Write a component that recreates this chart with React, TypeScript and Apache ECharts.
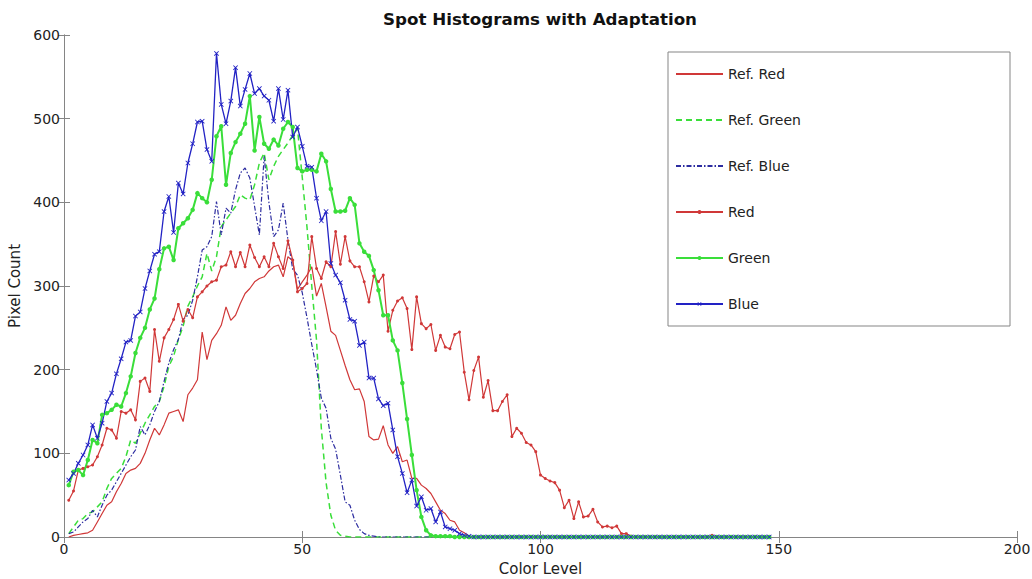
import React, { useEffect, useRef } from "react";
import * as echarts from "echarts";

// Color levels run 1..148 (one value per level)
const refRed = [
  0, 2, 3, 4, 5, 8, 18, 28, 38, 42,
  54, 64, 76, 80, 82, 88, 100, 116, 130, 122,
  134, 148, 150, 152, 138, 170, 178, 188, 245, 212,
  235, 243, 253, 275, 259, 265, 279, 291, 297, 305,
  309, 311, 318, 323, 325, 311, 335, 330, 296, 305,
  313, 323, 288, 303, 275, 246, 241, 223, 205, 188,
  176, 177, 162, 120, 116, 117, 133, 110, 100, 108,
  90, 92, 70, 70, 62, 58, 52, 42, 32, 28,
  20, 18, 8, 5, 1, 0, 0, 0, 0, 0,
  0, 0, 0, 0, 0, 0, 0, 0, 0, 0,
  0, 0, 0, 0, 0, 0, 0, 0, 0, 0,
  0, 0, 0, 0, 0, 0, 0, 0, 0, 0,
  0, 0, 0, 0, 0, 0, 0, 0, 0, 0,
  0, 0, 0, 0, 0, 0, 0, 0, 0, 0,
  0, 0, 0, 0, 0, 0, 0, 0,
];

const refGreen = [
  4, 12, 20, 22, 28, 30, 36, 42, 58, 70,
  76, 82, 96, 116, 112, 124, 136, 146, 156, 162,
  180, 204, 216, 236, 252, 276, 287, 300, 311, 339,
  318, 335, 371, 379, 387, 395, 409, 405, 403, 421,
  447, 459, 427, 443, 455, 463, 471, 480, 488, 430,
  370, 300, 235, 130, 65, 26, 8, 2, 1, 0,
  0, 0, 0, 0, 0, 0, 0, 0, 0, 0,
  0, 0, 0, 0, 0, 0, 0, 0, 0, 0,
  0, 0, 0, 0, 0, 0, 0, 0, 0, 0,
  0, 0, 0, 0, 0, 0, 0, 0, 0, 0,
  0, 0, 0, 0, 0, 0, 0, 0, 0, 0,
  0, 0, 0, 0, 0, 0, 0, 0, 0, 0,
  0, 0, 0, 0, 0, 0, 0, 0, 0, 0,
  0, 0, 0, 0, 0, 0, 0, 0, 0, 0,
  0, 0, 0, 0, 0, 0, 0, 0,
];

const refBlue = [
  4, 6, 12, 18, 22, 32, 24, 38, 50, 56,
  66, 76, 86, 96, 104, 132, 122, 134, 150, 162,
  186, 208, 224, 236, 260, 265, 283, 311, 343, 347,
  359, 401, 361, 393, 387, 415, 435, 441, 429, 395,
  361, 455, 400, 359, 367, 399, 355, 320, 313, 292,
  262, 230, 200, 166, 154, 118, 105, 74, 42, 38,
  20, 9, 4, 2, 1, 0, 0, 0, 0, 0,
  0, 0, 0, 0, 0, 0, 0, 0, 0, 0,
  0, 0, 0, 0, 0, 0, 0, 0, 0, 0,
  0, 0, 0, 0, 0, 0, 0, 0, 0, 0,
  0, 0, 0, 0, 0, 0, 0, 0, 0, 0,
  0, 0, 0, 0, 0, 0, 0, 0, 0, 0,
  0, 0, 0, 0, 0, 0, 0, 0, 0, 0,
  0, 0, 0, 0, 0, 0, 0, 0, 0, 0,
  0, 0, 0, 0, 0, 0, 0, 0,
];

const red = [
  44, 55, 80, 82, 84, 86, 96, 110, 130, 128,
  118, 150, 148, 152, 140, 186, 190, 174, 248, 210,
  238, 248, 260, 278, 258, 272, 262, 287, 293, 300,
  305, 307, 323, 325, 341, 323, 340, 323, 349, 334,
  323, 335, 323, 351, 335, 321, 354, 331, 293, 297,
  303, 359, 321, 309, 329, 323, 365, 326, 359, 330,
  323, 323, 305, 281, 312, 305, 313, 246, 271, 282,
  286, 273, 224, 287, 255, 249, 254, 223, 241, 227,
  225, 242, 245, 197, 164, 199, 215, 167, 187, 151,
  151, 162, 170, 120, 130, 124, 113, 110, 102, 74,
  70, 67, 65, 56, 35, 44, 22, 42, 24, 25,
  33, 18, 12, 13, 11, 13, 4, 4, 1, 0,
  0, 0, 0, 0, 0, 0, 0, 0, 0, 0,
  0, 0, 0, 0, 0, 2, 0, 0, 0, 0,
  0, 0, 0, 0, 0, 0, 0, 0,
];

const green = [
  62, 78, 80, 74, 92, 116, 112, 146, 148, 152,
  158, 156, 172, 192, 220, 238, 250, 272, 285, 320,
  345, 347, 331, 369, 375, 381, 391, 411, 405, 400,
  427, 479, 491, 421, 459, 472, 482, 494, 527, 462,
  502, 470, 464, 475, 468, 488, 496, 490, 441, 437,
  439, 439, 437, 458, 449, 416, 389, 389, 390, 405,
  397, 351, 341, 336, 319, 295, 265, 265, 235, 223,
  184, 141, 98, 56, 24, 8, 2, 1, 1, 1,
  1, 0, 0, 0, 0, 0, 0, 0, 0, 0,
  0, 0, 0, 0, 0, 0, 0, 0, 0, 0,
  0, 0, 0, 0, 0, 0, 0, 0, 0, 0,
  0, 0, 0, 0, 0, 0, 0, 0, 0, 0,
  0, 0, 0, 0, 0, 0, 0, 0, 0, 0,
  0, 0, 0, 0, 0, 0, 0, 0, 0, 0,
  0, 0, 0, 0, 0, 0, 0, 0,
];

const blue = [
  68, 76, 88, 98, 110, 134, 118, 136, 162, 172,
  195, 213, 233, 235, 264, 269, 297, 318, 338, 341,
  389, 407, 364, 423, 410, 447, 470, 496, 497, 463,
  449, 578, 517, 494, 521, 561, 515, 535, 554, 530,
  536, 527, 522, 497, 536, 499, 534, 478, 490, 467,
  443, 442, 405, 378, 389, 327, 313, 304, 283, 260,
  258, 229, 233, 190, 190, 165, 157, 160, 128, 96,
  76, 53, 68, 37, 48, 32, 34, 18, 30, 12,
  10, 8, 4, 2, 1, 0, 0, 0, 0, 0,
  0, 0, 0, 0, 0, 0, 0, 0, 0, 0,
  0, 0, 0, 0, 0, 0, 0, 0, 0, 0,
  0, 0, 0, 0, 0, 0, 0, 0, 0, 0,
  0, 0, 0, 0, 0, 0, 0, 0, 0, 0,
  0, 0, 0, 0, 0, 0, 0, 0, 0, 0,
  0, 0, 0, 0, 0, 0, 0, 0,
];

const seriesNames = ["Ref. Red", "Ref. Green", "Ref. Blue", "Red", "Green", "Blue"];
const xMin = 0;
const xMax = 200;
const xStep = 50;
const yMin = 0;
const yMax = 600;
const yStep = 100;

const RED = "#d03838";
const GREEN = "#3ade3a";
const BLUE = "#2222c4";
const REF_BLUE = "#2d2da0";
const AXIS = "#858585";
const SANS = "'DejaVu Sans', sans-serif";
const X_MARK = "path://M0,1.2L1.2,0L5,3.8L8.8,0L10,1.2L6.2,5L10,8.8L8.8,10L5,6.2L1.2,10L0,8.8L3.8,5Z";

function toPoints(values: number[]) {
  return values.map((v, i) => [i + 1, v]);
}

export default function App() {
  const ref = useRef<HTMLDivElement>(null);

  useEffect(() => {
    if (!ref.current) return;
    const chart = echarts.init(ref.current, undefined, { renderer: "svg" });

    const axisCommon = {
      axisLine: { show: true, lineStyle: { color: AXIS, width: 1 } },
      axisTick: { show: true, inside: true, length: 6, lineStyle: { color: AXIS } },
      splitLine: { show: false },
    };

    const legendData = seriesNames.map((name, i) =>
      i < 3 ? { name, itemStyle: { opacity: 0 } } : { name }
    );

    chart.setOption({
      animation: false,
      backgroundColor: "#ffffff",
      grid: {
        left: 64,
        right: 15,
        top: 35,
        bottom: 42,
        containLabel: false,
        outerBoundsMode: "none",
      },
      graphic: [
        {
          type: "text",
          x: 540,
          y: 19,
          style: {
            text: "Spot Histograms with Adaptation",
            fill: "#111",
            font: `bold 16.7px ${SANS}`,
            textAlign: "center",
            textVerticalAlign: "middle",
          },
        },
        {
          type: "rect",
          z: 0,
          shape: { x: 668, y: 52, width: 342, height: 274 },
          style: { fill: "#ffffff", stroke: AXIS, lineWidth: 1 },
        },
      ],
      legend: {
        orient: "vertical",
        left: 675,
        top: 67,
        padding: 0,
        itemWidth: 47,
        itemHeight: 5,
        itemGap: 32,
        data: legendData,
        textStyle: { fontFamily: SANS, fontSize: 14, color: "#222" },
      },
      xAxis: [
        {
          type: "value",
          min: xMin,
          max: xMax,
          interval: xStep,
          position: "bottom",
          name: "Color Level",
          nameLocation: "middle",
          nameGap: 24,
          nameTextStyle: { fontFamily: SANS, fontSize: 15, color: "#222" },
          axisLabel: { fontFamily: SANS, fontSize: 14, color: "#222", margin: 5 },
          ...axisCommon,
        },
        {
          type: "value",
          min: xMin,
          max: xMax,
          interval: xStep,
          position: "top",
          axisLabel: { show: false },
          ...axisCommon,
        },
      ],
      yAxis: [
        {
          type: "value",
          min: yMin,
          max: yMax,
          interval: yStep,
          position: "left",
          name: "Pixel Count",
          nameLocation: "middle",
          nameGap: 35,
          nameTextStyle: { fontFamily: SANS, fontSize: 15, color: "#222" },
          axisLabel: { fontFamily: SANS, fontSize: 14, color: "#222", margin: 4 },
          ...axisCommon,
        },
        {
          type: "value",
          min: yMin,
          max: yMax,
          interval: yStep,
          position: "right",
          axisLabel: { show: false },
          ...axisCommon,
        },
      ],
      series: [
        {
          name: "Ref. Red",
          type: "line",
          data: toPoints(refRed),
          symbol: "none",
          lineStyle: { color: RED, width: 1.2 },
          itemStyle: { color: RED },
        },
        {
          name: "Ref. Green",
          type: "line",
          data: toPoints(refGreen),
          symbol: "none",
          lineStyle: { color: GREEN, width: 1.5, type: [6, 4] },
          itemStyle: { color: GREEN },
        },
        {
          name: "Ref. Blue",
          type: "line",
          data: toPoints(refBlue),
          symbol: "none",
          lineStyle: { color: REF_BLUE, width: 1.2, type: [5, 2, 1.5, 2] },
          itemStyle: { color: REF_BLUE },
        },
        {
          name: "Red",
          type: "line",
          data: toPoints(red),
          symbol: "circle",
          symbolSize: 3,
          showAllSymbol: true,
          lineStyle: { color: RED, width: 1.2 },
          itemStyle: { color: RED },
        },
        {
          name: "Green",
          type: "line",
          data: toPoints(green),
          symbol: "circle",
          symbolSize: 4.5,
          showAllSymbol: true,
          lineStyle: { color: GREEN, width: 2 },
          itemStyle: { color: GREEN },
        },
        {
          name: "Blue",
          type: "line",
          data: toPoints(blue),
          symbol: X_MARK,
          symbolSize: 5,
          showAllSymbol: true,
          lineStyle: { color: BLUE, width: 1.3 },
          itemStyle: { color: BLUE },
        },
      ],
    });

    return () => {
      chart.dispose();
    };
  }, []);

  return (
    <div
      ref={ref}
      style={{ position: "absolute", left: 0, top: 0, width: 1032, height: 579 }}
    />
  );
}
